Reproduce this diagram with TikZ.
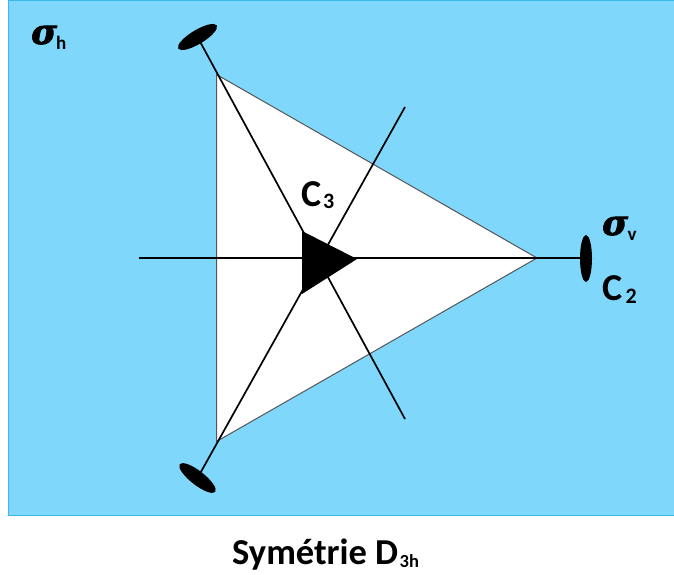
\documentclass[tikz,border=0pt]{standalone}
\usepackage{fontspec}
\setmainfont{Carlito}
\newfontfamily\sigmafont[FakeBold=2.5]{DejaVu Serif}
\begin{document}
\begin{tikzpicture}[x=1pt,y=-1pt,
  axisline/.style={draw=black,line width=1.7pt},
  disc/.style={fill=black,draw=none},
  lbl/.style={inner sep=0pt,font=\bfseries,text=black,anchor=base west},
]
\useasboundingbox (0,0) rectangle (674,575);
\fill[fill={rgb,255:red,128;green,215;blue,252},draw={rgb,255:red,62;green,184;blue,232},line width=1pt] (8,0.5) rectangle (674.5,515.5);
\coordinate (A) at (216.5,74.5);
\coordinate (B) at (537,258);
\coordinate (C) at (216.5,441.5);
\draw[fill=white,draw={rgb,255:red,85;green,85;blue,85},line width=1pt] (A) -- (B) -- (C) -- cycle;
\coordinate (topdisc) at (197.5,37);
\coordinate (botdisc) at (197.5,478);
\coordinate (rightdisc) at (586,258.5);
\coordinate (leftend) at (139,258);
\coordinate (endA) at (405,107);
\coordinate (endB) at (405,419);
\draw[axisline] (leftend) -- (rightdisc |- leftend);
\draw[axisline] (topdisc) -- (endB);
\draw[axisline] (botdisc) -- (endA);
\fill[disc,rotate around={31:(topdisc)}] (topdisc) ellipse [x radius=22.5,y radius=7];
\fill[disc,rotate around={-38:(botdisc)}] (botdisc) ellipse [x radius=22.5,y radius=7];
\fill[disc] (rightdisc) ellipse [x radius=6,y radius=23.5];
\fill[black] (302,231) -- (357,259) -- (302,294) -- cycle;
\node[lbl] (sh) at (31,44) {\fontsize{35}{35}\selectfont\sigmafont\bfseries\itshape σ};
\node[lbl] (shs) at (56,50) {\fontsize{19}{19}\selectfont h};
\node[lbl] (sv) at (602,235) {\fontsize{35}{35}\selectfont\sigmafont\bfseries\itshape σ};
\node[lbl] (svs) at (627.5,240) {\fontsize{19}{19}\selectfont v};
\node[lbl] (c3) at (301,206) {\fontsize{38}{38}\selectfont C};
\node[lbl] (c3s) at (323,208) {\fontsize{22}{22}\selectfont 3};
\node[lbl] (c2) at (602,300) {\fontsize{38}{38}\selectfont C};
\node[lbl] (c2s) at (625.5,303) {\fontsize{22}{22}\selectfont 2};
\node[lbl] (title) at (232,564) {\fontsize{36.5}{36.5}\selectfont Symétrie D};
\node[lbl] (titles) at (399.5,567) {\fontsize{18.5}{18.5}\selectfont 3h};
\end{tikzpicture}
\end{document}
